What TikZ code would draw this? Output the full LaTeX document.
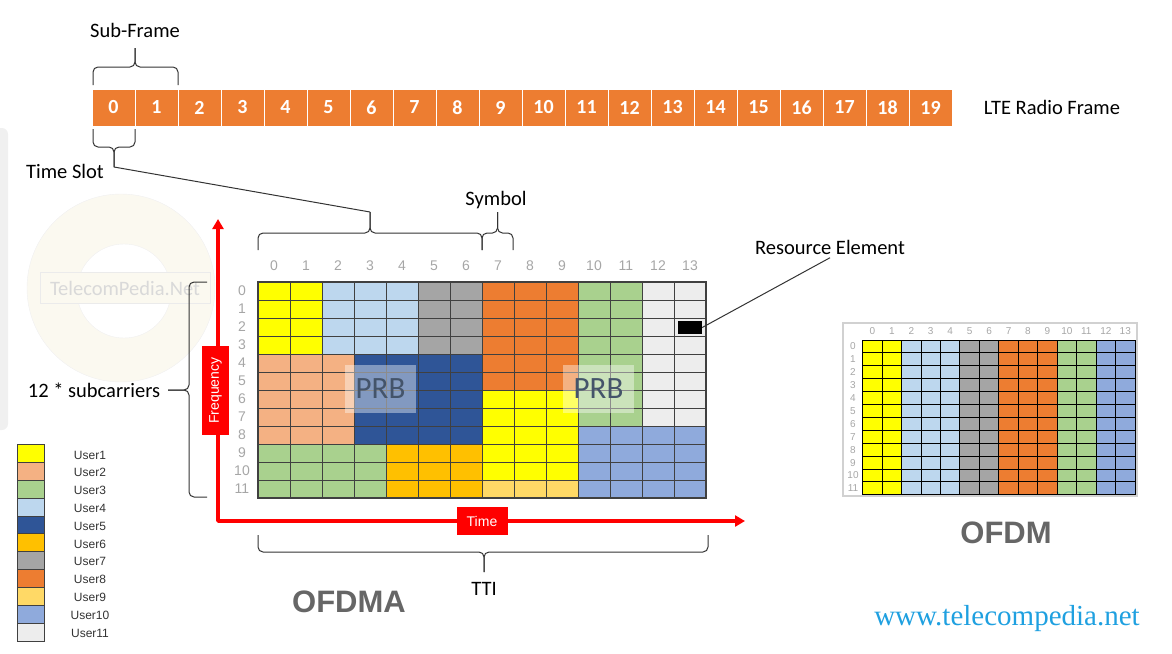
\documentclass[tikz,border=0pt]{standalone}
\usepackage{fontspec}
\setmainfont{Carlito}
\newfontfamily\arialfont{Liberation Sans}
\newfontfamily\webfont{Liberation Serif}
\usetikzlibrary{arrows.meta}

\definecolor{u1}{HTML}{FFFF00}
\definecolor{u2}{HTML}{F4B183}
\definecolor{u3}{HTML}{A9D18E}
\definecolor{u4}{HTML}{BDD7EE}
\definecolor{u5}{HTML}{2F5597}
\definecolor{u6}{HTML}{FFC000}
\definecolor{u7}{HTML}{A5A5A5}
\definecolor{u8}{HTML}{ED7D31}
\definecolor{u9}{HTML}{FFD966}
\definecolor{u10}{HTML}{8FAADC}
\definecolor{u11}{HTML}{EDEDED}
\definecolor{slotorange}{HTML}{ED7D31}
\definecolor{prbtext}{HTML}{44546A}
\definecolor{weblink}{HTML}{1FA0E0}
\definecolor{axisgray}{HTML}{A6A6A6}
\definecolor{bigtext}{HTML}{666666}
\definecolor{wmring}{HTML}{FBF9F0}

\begin{document}
\begin{tikzpicture}[x=1pt, y=-1pt,
    >=Triangle,
    txt/.style = {
      font = \fontsize{20.5}{24}\selectfont
    },
    slot/.style = {
      fill = slotorange,
      draw = white,
      line width = 1pt,
      minimum width = 43pt,
      minimum height = 37pt,
      text = white,
      font = \fontsize{20}{24}\selectfont\bfseries
    },
    bracket/.style = {
      draw = black!80,
      line width = 1pt,
      rounded corners = 5pt
    },
    axlbl/.style = {
      text = axisgray,
      font = \arialfont\fontsize{14}{16}\selectfont
    },
    smalllbl/.style = {
      text = axisgray,
      font = \arialfont\fontsize{10}{12}\selectfont,
      inner sep = 0pt
    },
    cellline/.style = {
      draw = black!75,
      line width = 0.9pt
    },
    redbox/.style = {
      fill = red,
      text = white,
      inner sep = 0pt,
      font = \arialfont\fontsize{14}{16}\selectfont
    },
    redaxis/.style = {
      draw = red,
      line width = 3.5pt,
      line join = round,
      {Triangle[length=10pt,width=11pt]}-{Triangle[length=10pt,width=11pt]}
    },
    prb/.style = {
      fill = white,
      fill opacity = 0.4,
      text opacity = 1,
      text = prbtext,
      minimum width = 71pt,
      minimum height = 48pt,
      font = \fontsize{31}{36}\selectfont
    },
    swatch/.style = {
      draw = black!75,
      line width = 0.8pt,
      minimum width = 26.6pt,
      minimum height = 17.9pt,
      inner sep = 0pt
    },
    userlbl/.style = {
      text = black!80,
      font = \arialfont\fontsize{12}{14}\selectfont
    },
    bigword/.style = {
      text = bigtext,
      font = \arialfont\fontsize{31}{36}\selectfont\bfseries
    }
  ]
  \useasboundingbox (0,0) rectangle (1172,653);

  % faint watermark and panel edge
  \fill[black!6, rounded corners=6pt] (-10,128) rectangle (8,430);
  \fill[wmring, draw=black!6, even odd rule]
    (121,288) circle[radius=94pt] (124,291) circle[radius=47pt];
  \node[fill=wmring, draw=black!8, minimum width=170pt, minimum height=31pt,
        text=black!15, font=\fontsize{20.5}{24}\selectfont] (wm) at (125,288) {TelecomPedia.Net};

  % radio frame
  \foreach \i in {0,...,19}
    \node[slot] (slot\i) at ({113.5+43*\i},107.5) {\i};
  \node[txt] (frame) at (1052,107) {LTE Radio Frame};

  \node[txt] (subframe) at (135,30) {Sub-Frame};
  \draw[bracket] (93,85) |- (135,67) -- (135,48);
  \draw[bracket] (178,85) |- (135,67) -- (135,48);

  \node[txt] (timeslot) at (65,171) {Time Slot};
  \draw[bracket] (93,129) |- (114,147) -- (114,167);
  \draw[bracket] (135,129) |- (114,147) -- (114,167);
  \coordinate (slottip) at (114,167);

  % symbols of one slot
  \draw[bracket] (258,250) |- (370,233) -- (370,212);
  \draw[bracket] (482,250) |- (370,233) -- (370,212);
  \coordinate (symtip) at (370,212);
  \draw[black!80, line width=1pt] (slottip) -- (symtip);

  \node[txt] (symbol) at (496,200) {Symbol};
  \draw[bracket] (482,250) |- (497.5,233) -- (497.5,212);
  \draw[bracket] (513,250) |- (497.5,233) -- (497.5,212);

  % OFDMA resource grid
  \foreach \c/\r/\w/\h/\col in {0/0/2/4/u1, 2/0/3/4/u4, 5/0/2/4/u7, 7/0/3/6/u8,
      10/0/2/8/u3, 12/0/2/8/u11, 0/4/3/5/u2, 3/4/4/5/u5, 7/6/3/5/u1,
      7/11/3/1/u9, 10/8/4/4/u10, 0/9/4/3/u3, 4/9/3/3/u6}
    \fill[fill=\col] ({258+32*\c},{282+18*\r}) rectangle +({32*\w},{18*\h});
  \foreach \c in {1,...,13}
    \draw[cellline] ({258+32*\c},282) -- ({258+32*\c},498);
  \foreach \r in {1,...,11}
    \draw[cellline] (258,{282+18*\r}) -- (706,{282+18*\r});
  \draw[black!75, line width=1.8pt] (258,282) rectangle (706,498);

  \foreach \c in {0,...,13}
    \node[axlbl] (col\c) at ({274+32*\c},266) {\c};
  \foreach \r in {0,...,11}
    \node[axlbl] (row\r) at (242,{291+18*\r}) {\r};

  \node[prb] (prb1) at (380.5,389) {PRB};
  \node[prb] (prb2) at (598.5,389) {PRB};

  \node[fill=black, minimum width=24.5pt, minimum height=13pt, inner sep=0pt] (re) at (689.75,327.5) {};
  \node[txt] (relabel) at (830,247) {Resource Element};
  \draw[black!80, line width=1pt] (re.east) -- (relabel.south);

  % axes
  \coordinate (freqtip) at (218,219);
  \coordinate (timetip) at (745,521);
  \draw[redaxis] (freqtip) |- (timetip);
  \node[redbox, rotate=90, minimum width=89pt, minimum height=27pt] (freq) at (215.5,390.5) {Frequency};
  \node[redbox, minimum width=51pt, minimum height=28pt] (time) at (482,521) {Time};

  \node[txt] (subc) at (94,390) {12 * subcarriers};
  \draw[bracket] (207,282) -| (189,390) -- (168,390);
  \draw[bracket] (207,497) -| (189,390) -- (168,390);

  \draw[bracket] (258,535) |- (484,552) -- (484,572);
  \draw[bracket] (708,535) |- (484,552) -- (484,572);
  \node[txt] (tti) at (484,589) {TTI};

  \node[bigword] (ofdma) at (349,602) {OFDMA};

  % legend
  \foreach \u [count=\k from 0] in {1,...,11} {
    \node[swatch, fill=u\u] (sw\u) at (31,{453.3+17.9*\k}) {};
    \node[userlbl] (user\u) at (90,{455+17.8*\k}) {User\u};
  }

  % OFDM grid
  \draw[black!18, line width=1.5pt] (843,323) rectangle (1137,496);
  \foreach \c/\w/\col in {0/2/u1, 2/3/u4, 5/2/u7, 7/3/u8, 10/2/u3, 12/2/u10}
    \fill[fill=\col] ({862.7+19.45*\c},340) rectangle +({19.45*\w},154.8);
  \foreach \c in {0,...,14}
    \draw[black, line width=1pt] ({862.7+19.45*\c},340) -- ({862.7+19.45*\c},494.8);
  \foreach \r in {0,...,12}
    \draw[black, line width=1pt] (862.7,{340+12.9*\r}) -- (1135,{340+12.9*\r});
  \foreach \c in {0,...,13}
    \node[smalllbl] (ocol\c) at ({872.4+19.45*\c},331.5) {\c};
  \foreach \r in {0,...,11}
    \node[smalllbl] (orow\r) at (853,{346.5+12.9*\r}) {\r};

  \node[bigword] (ofdm) at (1006,533) {OFDM};

  \node[text=weblink, font=\webfont\fontsize{29}{32}\selectfont] (web) at (1007,619) {www.telecompedia.net};
\end{tikzpicture}
\end{document}
